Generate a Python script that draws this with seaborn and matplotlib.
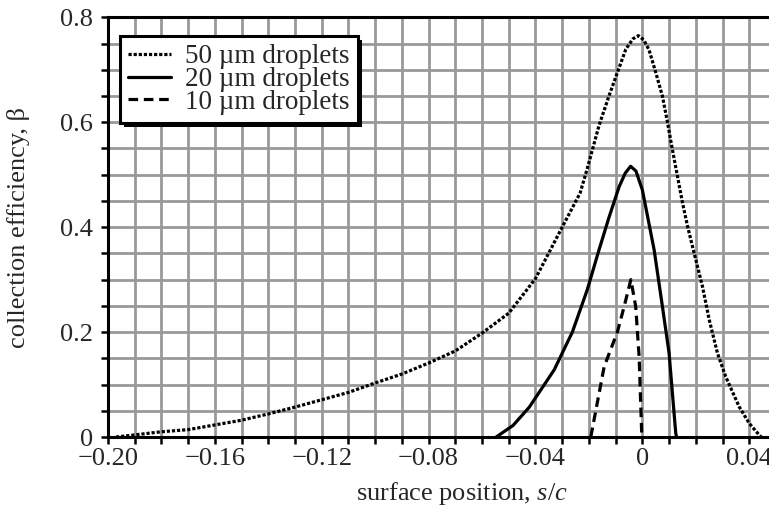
import matplotlib
matplotlib.use("Agg")
import matplotlib.pyplot as plt
import seaborn as sns
import pandas as pd
from matplotlib.patches import Rectangle
from matplotlib.ticker import MultipleLocator, FixedLocator, FixedFormatter

# ---- data ----
s50 = [-0.197, -0.19, -0.18, -0.17, -0.16, -0.15, -0.14, -0.13, -0.12, -0.11,
       -0.10, -0.09, -0.08, -0.07, -0.06, -0.05, -0.04, -0.03, -0.0233, -0.0206,
       -0.0162, -0.0125, -0.0094, -0.0062, -0.0035, -0.0015, 0.0005, 0.0025,
       0.005, 0.0075, 0.0094, 0.0112, 0.0131, 0.015, 0.0169, 0.0194, 0.0225,
       0.025, 0.0281, 0.0312, 0.0362, 0.04, 0.0437, 0.0445]
b50 = [0.0, 0.004, 0.01, 0.014, 0.023, 0.032, 0.044, 0.057, 0.071, 0.085,
       0.103, 0.12, 0.141, 0.164, 0.198, 0.236, 0.302, 0.40, 0.465, 0.512,
       0.594, 0.65, 0.694, 0.739, 0.759, 0.765, 0.757, 0.738,
       0.695, 0.65, 0.60, 0.549, 0.498, 0.447, 0.402, 0.35, 0.287,
       0.224, 0.16, 0.115, 0.058, 0.026, 0.004, 0.0]

s20 = [-0.0547, -0.0484, -0.0423, -0.033, -0.0262, -0.0206, -0.0162, -0.0124,
       -0.0087, -0.0064, -0.0044, -0.0024, 0.0, 0.0044, 0.0075, 0.01, 0.0125, 0.0128]
b20 = [0.0, 0.022, 0.057, 0.128, 0.20, 0.281, 0.357, 0.42,
       0.477, 0.503, 0.516, 0.507, 0.471, 0.357, 0.249, 0.16, 0.007, 0.0]

s10 = [-0.0193, -0.0143, -0.0093, -0.0068, -0.0043, -0.0025, -0.0012, -0.0002]
b10 = [0.0, 0.134, 0.201, 0.249, 0.30, 0.249, 0.153, 0.0]

labels = ["50 µm droplets", "20 µm droplets", "10 µm droplets"]
xticks = [-0.20, -0.16, -0.12, -0.08, -0.04, 0.0, 0.04]
xticklabels = ["\u22120.20", "\u22120.16", "\u22120.12", "\u22120.08", "\u22120.04", "0", "0.04"]
yticks = [0.0, 0.2, 0.4, 0.6, 0.8]
yticklabels = ["0", "0.2", "0.4", "0.6", "0.8"]
xlabel = "surface position, $s/c$"
ylabel = "collection efficiency, \u03b2"

# ---- style ----
sns.set_style("ticks")
plt.rcParams["font.family"] = ["Liberation Serif", "DejaVu Serif"]
plt.rcParams["mathtext.fontset"] = "custom"
plt.rcParams["mathtext.rm"] = "Liberation Serif"
plt.rcParams["mathtext.it"] = "Liberation Serif:italic"

fig = plt.figure(figsize=(7.69, 5.13), dpi=100)
W, H = 769, 513
ax = fig.add_axes([108 / W, 1 - 437 / H, 1 - 108 / W, (437 - 17.3) / H])

df50 = pd.DataFrame({"s": s50, "b": b50})
df20 = pd.DataFrame({"s": s20, "b": b20})
df10 = pd.DataFrame({"s": s10, "b": b10})

lw = 2.3
sns.lineplot(data=df50, x="s", y="b", ax=ax, color="black", lw=lw,
             linestyle=(0, (1, 0.6)), label=labels[0], sort=False)
sns.lineplot(data=df20, x="s", y="b", ax=ax, color="black", lw=lw,
             linestyle="-", label=labels[1], sort=False)
sns.lineplot(data=df10, x="s", y="b", ax=ax, color="black", lw=lw,
             linestyle=(0, (3, 1.8)), label=labels[2], sort=False)

ax.set_xlim(-0.2, 0.0474)
ax.set_ylim(0, 0.8)

ax.xaxis.set_major_locator(FixedLocator(xticks))
ax.xaxis.set_major_formatter(FixedFormatter(xticklabels))
ax.yaxis.set_major_locator(FixedLocator(yticks))
ax.yaxis.set_major_formatter(FixedFormatter(yticklabels))
ax.xaxis.set_minor_locator(MultipleLocator(0.01))
ax.yaxis.set_minor_locator(MultipleLocator(0.05))

ax.grid(which="both", color="#999999", lw=2.0)
ax.set_axisbelow(True)

ax.tick_params(which="both", direction="out", length=5, width=1.8, color="black")
ax.tick_params(axis="x", which="major", labelsize=19, pad=3)
ax.tick_params(axis="y", which="major", labelsize=19, pad=6)

for side in ["left", "bottom", "top"]:
    ax.spines[side].set_linewidth(2.2)
    ax.spines[side].set_color("black")
ax.spines["right"].set_visible(False)

ax.set_xlabel(xlabel, fontsize=19)
ax.set_ylabel(ylabel, fontsize=19)
ax.xaxis.set_label_coords((462 - 108) / (W - 108), (437 - 480) / (437 - 17.3))
ax.yaxis.set_label_coords((30 - 108) / (W - 108), 0.5)

leg = ax.legend(loc="upper left", bbox_to_anchor=(0.018, 0.955), frameon=True,
                fancybox=False, edgecolor="black", framealpha=1,
                borderaxespad=0, fontsize=19.5, handlelength=1.6,
                handletextpad=0.5, labelspacing=-0.08, borderpad=0.3)
leg.get_frame().set_linewidth(2.2)
leg.set_zorder(6)

# hard black drop shadow behind the legend box
fig.canvas.draw()
bb = leg.get_frame().get_window_extent()
shadow = Rectangle((bb.x0 + 4, bb.y0 - 4), bb.width, bb.height, transform=None,
                   facecolor="black", edgecolor="none", zorder=5.5, clip_on=False)
ax.add_artist(shadow)

fig.savefig("out.png", dpi=100)
